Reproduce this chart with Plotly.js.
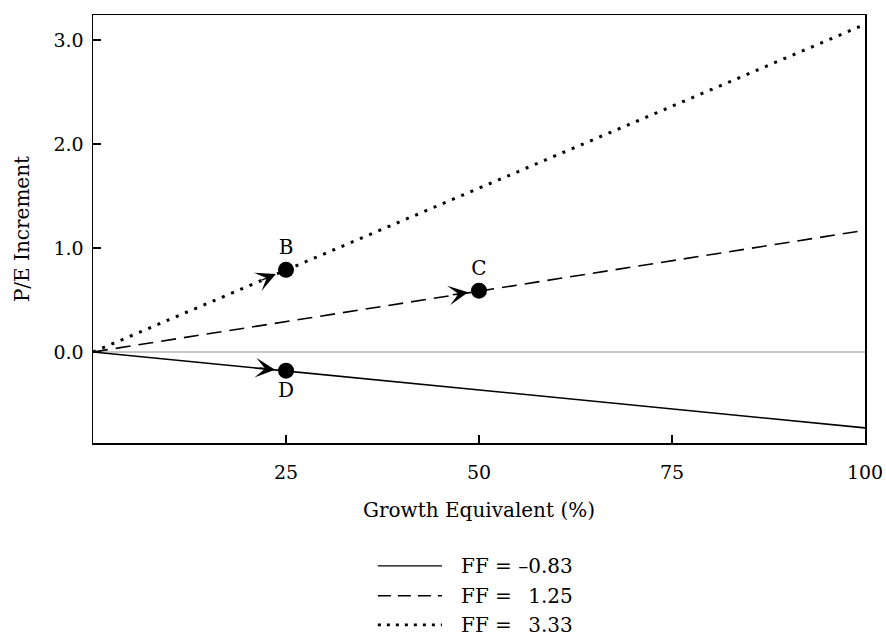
<!DOCTYPE html>
<html>
<head>
<meta charset="utf-8">
<script src="https://cdn.plot.ly/plotly-3.0.1.min.js"></script>
<style>html,body{margin:0;padding:0;background:#fff;}#chart{width:886px;height:638px;}</style>
</head>
<body>
<div id="chart"></div>
<script>
// ---- data ----
var growthX = [0, 100];
var solidY = [0, -0.73];   // FF = -0.83
var dashedY = [0, 1.17];   // FF = 1.25
var dottedY = [0, 3.15];   // FF = 3.33
var seriesNames = ['FF = \u20130.83', 'FF = \u20021.25', 'FF = \u20023.33'];
var pointLabels = ['B', 'C', 'D'];
var pointX = [25, 50, 25];
var pointY = [0.79, 0.59, -0.18];
var pointSeries = [2, 1, 0]; // which line each point lies on
var xTicks = [25, 50, 75, 100];
var yTicks = [0, 1, 2, 3];
var yTickText = ['0.0', '1.0', '2.0', '3.0'];

var FONT = 'DejaVu Serif, Liberation Serif, serif';
var W = 886, H = 638;
var M = {l: 93, r: 21, t: 15, b: 195};
var xRange = [0, 100];
var yRange = [-0.875, 3.24];

var lineY = [solidY, dashedY, dottedY];
var dashes = ['solid', '15px,8px', '3px,7px'];
var legendDashes = ['solid', '13px,7px', '3px,6px'];
var widths = [1.6, 1.6, 3];
var legendWidths = [1.4, 1.4, 2.6];

var traces = [];
for (var i = 0; i < 3; i++) {
  traces.push({
    type: 'scatter', mode: 'lines',
    x: growthX, y: lineY[i],
    name: seriesNames[i],
    line: {color: '#000', width: widths[i], dash: dashes[i]},
    showlegend: false, hoverinfo: 'skip'
  });
}
traces.push({
  type: 'scatter', mode: 'markers+text',
  x: pointX, y: pointY, text: pointLabels,
  textposition: ['top center', 'top center', 'bottom center'],
  textfont: {family: FONT, size: 20, color: '#000'},
  marker: {color: '#000', size: 16},
  showlegend: false, hoverinfo: 'skip'
});

// arrowheads aligned with each line, computed from the data slope and axis scales
var pxPerX = (W - M.l - M.r) / (xRange[1] - xRange[0]);
var pxPerY = (H - M.t - M.b) / (yRange[1] - yRange[0]);
var annotations = [];
var standoff = 11, L = 28;
for (var k = 0; k < pointX.length; k++) {
  var ys = lineY[pointSeries[k]];
  var slope = (ys[1] - ys[0]) / (growthX[1] - growthX[0]);
  var theta = Math.atan(slope * pxPerY / pxPerX);
  annotations.push({
    x: pointX[k], y: pointY[k], xref: 'x', yref: 'y',
    ax: -L * Math.cos(theta), ay: L * Math.sin(theta),
    showarrow: true, arrowhead: 3, arrowsize: 2.2, arrowwidth: 1.5,
    arrowcolor: '#000', standoff: standoff, text: ''
  });
}

// hand-drawn legend below the plot (positions in paper fractions)
var shapes = [];
var legRowY = [-0.287, -0.357, -0.425];
for (var j = 0; j < 3; j++) {
  shapes.push({
    type: 'line', xref: 'paper', yref: 'paper',
    x0: 0.369, x1: 0.452, y0: legRowY[j], y1: legRowY[j],
    line: {color: '#000', width: legendWidths[j], dash: legendDashes[j]}
  });
  annotations.push({
    xref: 'paper', yref: 'paper', x: 0.474, y: legRowY[j],
    xanchor: 'left', yanchor: 'middle', showarrow: false,
    text: seriesNames[j],
    font: {family: FONT, size: 20, color: '#000'}
  });
}

var layout = {
  width: W, height: H,
  margin: M,
  paper_bgcolor: '#fff', plot_bgcolor: '#fff',
  font: {family: FONT, size: 19, color: '#000'},
  showlegend: false,
  xaxis: {
    range: xRange, tickvals: xTicks,
    ticks: 'inside', ticklen: 8, tickwidth: 1.5, tickcolor: '#000',
    showline: true, linecolor: '#000', linewidth: 1.5, mirror: true,
    showgrid: false, zeroline: false,
    ticklabelstandoff: 12,
    tickfont: {family: FONT, size: 19, color: '#000'},
    title: {text: 'Growth Equivalent (%)', font: {family: FONT, size: 20, color: '#000'}, standoff: 20}
  },
  yaxis: {
    range: yRange, tickvals: yTicks, ticktext: yTickText,
    ticks: 'inside', ticklen: 8, tickwidth: 1.5, tickcolor: '#000',
    showline: true, linecolor: '#000', linewidth: 1.5, mirror: true,
    showgrid: false,
    zeroline: true, zerolinecolor: '#c8c8c8', zerolinewidth: 1.2,
    ticklabelstandoff: 4,
    tickfont: {family: FONT, size: 19, color: '#000'},
    title: {text: 'P/E Increment', font: {family: FONT, size: 20, color: '#000'}, standoff: 18}
  },
  shapes: shapes,
  annotations: annotations
};

Plotly.newPlot('chart', traces, layout, {displayModeBar: false, staticPlot: true});
</script>
</body>
</html>
